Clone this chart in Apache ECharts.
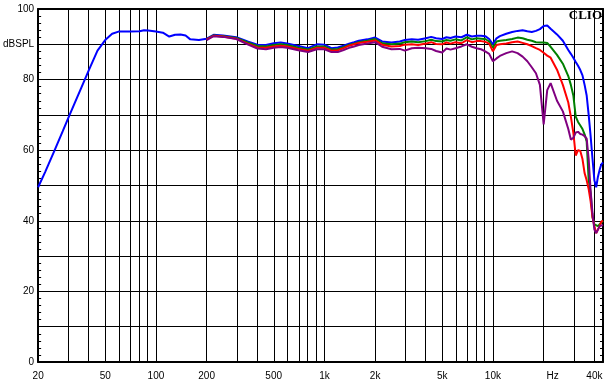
<!DOCTYPE html>
<html>
<head>
<meta charset="utf-8">
<script src="https://cdn.jsdelivr.net/npm/echarts@6/dist/echarts.min.js"></script>
<style>
html,body{margin:0;padding:0;background:#fff;}
#chart{width:608px;height:388px;}
</style>
</head>
<body>
<div id="chart"></div>
<script>
// Frequencies (Hz) shared by all curves
const freqs = [20,22,25,28,30,33,36,40,45,50,55,60,70,80,85,90,100,110,120,130,140,150,160,180,200,220,250,300,350,400,450,500,550,600,700,800,900,1000,1100,1200,1300,1400,1500,1600,1800,2000,2200,2500,2800,3000,3300,3600,4000,4300,4600,5000,5300,5600,6000,6500,7000,7500,8000,8500,9000,9500,10000,10500,11000,12000,13000,14000,15000,16000,17000,18000,19000,20000,21000,22000,24000,26000,28000,29000,30000,31000,32000,33000,34000,35000,36000,37000,38000,39000,40000,41000,42000,43000,44000,45000];

// Blue: full range from 20 Hz
const blue = [49.5,53.8,59.9,65.4,68.8,73.4,77.6,82.7,88.2,91.2,
93.0,93.6,93.6,93.7,94.0,93.9,93.6,93.3,92.2,92.7,
92.8,92.5,91.4,91.2,91.6,92.7,92.5,92.0,90.8,89.9,
89.8,90.3,90.5,90.2,89.5,88.9,90.0,89.9,88.9,89.1,
89.6,90.2,90.6,91.0,91.4,91.9,90.8,90.5,90.8,91.2,
91.4,91.3,91.7,92.1,91.7,91.5,92.0,91.8,92.2,92.0,
92.7,92.2,92.4,92.4,92.3,91.5,90.0,91.7,92.3,93.0,
93.5,93.8,94.0,93.7,93.5,93.8,94.3,95.2,95.3,94.4,
92.8,91.0,88.4,87.3,86.2,85.0,83.9,82.7,81.2,78.5,
75.5,70.0,64.0,57.5,51.5,49.5,52.5,54.5,56.0,56.5];

// Green, red, purple: start at 200 Hz
const startFreq = 200;
const green = [91.4,92.5,92.3,91.8,90.5,89.5,89.4,89.8,90.0,89.8,
89.0,88.5,89.4,89.4,88.5,88.7,89.2,89.8,90.2,90.6,
91.0,91.5,90.3,90.0,90.2,90.6,90.8,90.6,90.9,91.3,
90.9,90.8,91.2,91.0,91.4,91.1,92.0,91.4,91.7,91.6,
91.5,90.8,89.0,90.8,91.0,91.2,91.5,91.9,91.7,91.3,
91.0,90.6,90.5,90.5,90.4,89.3,87.0,84.5,81.0,78.5,
75.5,69.5,68.0,67.0,66.0,64.5,62.5,51.5,48.0,41.0,
39.0,38.5,38.5,38.8,39.5,40.0];
const red = [91.4,92.4,92.2,91.6,90.2,89.1,89.0,89.4,89.6,89.4,
88.7,88.2,89.0,89.0,88.2,88.3,88.9,89.6,90.0,90.4,
90.7,91.1,89.9,89.4,89.5,89.9,90.0,89.8,90.2,90.6,
90.1,90.0,90.5,90.2,90.6,90.3,91.2,90.6,90.9,90.9,
90.7,90.2,88.0,89.8,90.0,90.2,90.6,90.8,90.4,90.0,
89.5,88.9,88.4,87.6,86.8,86.2,82.8,78.5,73.5,69.5,
65.0,58.5,60.0,59.8,57.5,53.5,51.5,49.0,45.5,41.0,
38.5,36.5,37.0,38.5,39.8,40.0];
const purple = [91.2,92.3,92.1,91.5,90.0,88.8,88.6,89.0,89.2,89.0,
88.3,87.8,88.6,88.6,87.8,87.8,88.4,89.0,89.4,89.8,
90.2,90.6,89.3,88.6,88.7,88.2,88.9,89.0,88.9,88.7,
88.1,87.7,88.8,88.5,88.9,89.4,90.0,89.3,88.9,88.6,
88.0,87.3,85.2,86.0,86.7,87.5,88.0,87.5,86.5,85.2,
83.5,81.8,78.5,67.3,77.0,79.0,74.0,71.0,66.0,63.0,
63.5,65.0,65.2,64.6,64.4,64.0,63.3,57.5,48.5,42.0,
37.5,36.5,37.0,38.5,39.0,38.8];

// Axis ticks / labels
const gridFreqs = [30,40,50,60,70,80,90,100,200,300,400,500,600,700,800,900,1000,2000,3000,4000,5000,6000,7000,8000,9000,10000,20000,30000,40000];
const xLabelFreqs = [20,50,100,200,500,1000,2000,5000,10000,20000,40000];
const xLabelTexts = ['20','50','100','200','500','1k','2k','5k','10k','Hz','40k'];
const yLabels = {0:'0',20:'20',40:'40',60:'60',80:'80',90:'dBSPL',100:'100'};
const fMin = 20, fMax = 45000;

const lg = v => Math.log10(v);
function pairs(vals, offsetFreq) {
  const s = freqs.indexOf(offsetFreq);
  return vals.map((v, i) => [lg(freqs[s + i]), v]);
}

const chart = echarts.init(document.getElementById('chart'), null, {renderer: 'canvas'});
const font = 'Liberation Sans, Arial, sans-serif';
const lineSeries = (name, color, data) => ({
  name, type: 'line', data, showSymbol: false, symbol: 'none',
  lineStyle: {color, width: 2}, itemStyle: {color},
  xAxisIndex: 0, yAxisIndex: 0, z: 3, silent: true
});

const option = {
  animation: false,
  backgroundColor: '#fff',
  grid: {left: 37, right: 5, top: 9, bottom: 26, containLabel: false},
  xAxis: [{
    type: 'value', position: 'bottom', min: lg(fMin), max: lg(fMax),
    axisLine: {show: true, onZero: false, lineStyle: {color: '#000', width: 2}},
    axisTick: {show: false},
    splitLine: {show: false},
    axisLabel: {
      show: true, margin: 9, color: '#000', fontSize: 10, fontFamily: font,
      customValues: xLabelFreqs.map(lg),
      showMinLabel: true, showMaxLabel: true,
      formatter: function (v) {
        let best = 0, d = Infinity;
        xLabelFreqs.forEach((f, i) => { const dd = Math.abs(lg(f) - v); if (dd < d) { d = dd; best = i; } });
        const t = xLabelTexts[best];
        return t === 'Hz' ? '{hz|Hz}' : t;
      },
      rich: {hz: {fontSize: 10, fontFamily: font, color: '#000', padding: [0, 0, 0, 18]}}
    }
  }, {
    type: 'value', position: 'top', min: lg(fMin), max: lg(fMax),
    axisLine: {show: true, onZero: false, lineStyle: {color: '#000', width: 2}},
    axisTick: {show: false}, axisLabel: {show: false}, splitLine: {show: false}
  }],
  yAxis: [{
    type: 'value', position: 'left', min: 0, max: 100, interval: 10,
    axisLine: {show: true, onZero: false, lineStyle: {color: '#000', width: 2}},
    axisTick: {show: true, inside: true, length: 4, lineStyle: {color: '#000', width: 1}},
    minorTick: {show: true, splitNumber: 5, length: 3, lineStyle: {color: '#000', width: 1}},
    splitLine: {show: true, lineStyle: {color: '#000', width: 1}},
    axisLabel: {
      margin: 4, color: '#000', fontSize: 10, fontFamily: font,
      formatter: v => (yLabels[v] !== undefined ? yLabels[v] : '')
    }
  }, {
    type: 'value', position: 'right', min: 0, max: 100, interval: 10,
    axisLine: {show: true, onZero: false, lineStyle: {color: '#000', width: 2}},
    axisTick: {show: true, inside: true, length: 4, lineStyle: {color: '#000', width: 1}},
    minorTick: {show: true, splitNumber: 5, length: 3, lineStyle: {color: '#000', width: 1}},
    splitLine: {show: false}, axisLabel: {show: false}
  }],
  series: [
    {
      type: 'line', data: [[lg(fMin), -10]], symbol: 'none', lineStyle: {opacity: 0},
      silent: true, z: 1, xAxisIndex: 0, yAxisIndex: 0,
      markLine: {
        silent: true, symbol: 'none', z: 1, animation: false,
        label: {show: false},
        lineStyle: {color: '#000', width: 1, type: 'solid'},
        emphasis: {disabled: true},
        data: gridFreqs.map(f => ({xAxis: lg(f)}))
      }
    },
    lineSeries('blue', '#0000ff', pairs(blue, 20)),
    lineSeries('green', '#008000', pairs(green, startFreq)),
    lineSeries('red', '#ff0000', pairs(red, startFreq)),
    lineSeries('purple', '#800080', pairs(purple, startFreq))
  ],
  graphic: [{
    type: 'text', right: 6, top: 9, z: 10,
    style: {text: 'CLIO', font: 'bold 13px "Liberation Serif", "Times New Roman", serif', fill: '#000'}
  }]
};
chart.setOption(option);
</script>
</body>
</html>
